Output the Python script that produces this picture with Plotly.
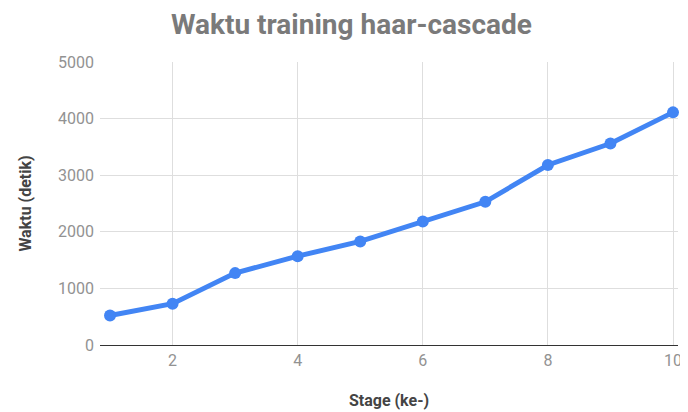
import plotly.graph_objects as go

stages = [1, 2, 3, 4, 5, 6, 7, 8, 9, 10]
waktu = [520, 730, 1270, 1570, 1830, 2180, 2530, 3180, 3560, 4110]
x_ticks = [2, 4, 6, 8, 10]
y_ticks = [0, 1000, 2000, 3000, 4000, 5000]

fig = go.Figure()
fig.add_trace(go.Scatter(
    x=stages, y=waktu, mode="lines+markers",
    line=dict(color="#4285F4", width=5),
    marker=dict(color="#4285F4", size=12),
    showlegend=False, cliponaxis=False,
))

# page body has an 8px margin, so the figure is sized 8px smaller
fig.update_layout(
    width=680, height=404,
    paper_bgcolor="white", plot_bgcolor="white",
    margin=dict(l=92, r=6, t=54, b=66),
    font=dict(family="Roboto", color="#757575"),
    title=dict(text="<b>Waktu training haar-cascade</b>", x=0.505, xanchor="center",
               y=0.96, yanchor="middle", font=dict(size=28, color="#7a7a7a", family="Roboto")),
)
fig.update_xaxes(
    range=[0.84, 10.08], tickvals=x_ticks, showgrid=True, gridcolor="#dedede", gridwidth=1,
    zeroline=False, showline=False, ticks="", tickfont=dict(size=16, color="#929292"),
    ticklabelstandoff=4,
    title=dict(text="<b>Stage (ke-)</b>", font=dict(size=16, color="#444444"), standoff=25),
)
fig.update_yaxes(
    range=[0, 5000], tickvals=y_ticks, showgrid=True, gridcolor="#dedede", gridwidth=1,
    zeroline=True, zerolinecolor="#333333", zerolinewidth=1, showline=False, ticks="",
    tickfont=dict(size=16, color="#929292"), ticklabelstandoff=5,
    title=dict(text="<b>Waktu (detik)</b>", font=dict(size=16, color="#444444"), standoff=22),
)

fig.write_html("out.html")
